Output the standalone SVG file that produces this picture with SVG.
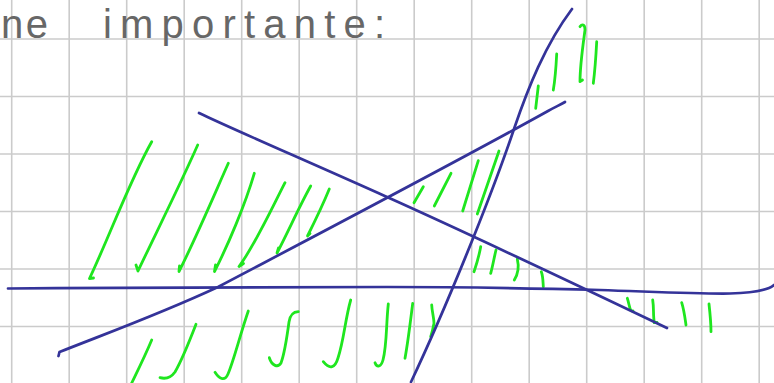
<svg xmlns="http://www.w3.org/2000/svg" width="774" height="383" viewBox="0 0 774 383">
<style>
.grid{stroke:#cbcbcb;stroke-width:1.6;fill:none}
.blue{stroke:#343399;stroke-width:2.7;fill:none;stroke-linecap:round;stroke-linejoin:round}
.green{stroke:#1fe61f;stroke-width:2.8;fill:none;stroke-linecap:round;stroke-linejoin:round}
.hand{font-family:"Liberation Sans","DejaVu Sans",sans-serif;font-size:40px;fill:#676767}
</style>
<rect width="774" height="383" fill="#ffffff"/>
<g id="grid" class="grid">
<path d="M11.7,0V383M69.2,0V383M126.7,0V383M184.2,0V383M241.7,0V383M299.2,0V383M356.7,0V383M414.2,0V383M471.7,0V383M529.2,0V383M586.7,0V383M644.2,0V383M701.7,0V383M759.2,0V383"/>
<path d="M0,39H774M0,96.5H774M0,154H774M0,211.5H774M0,269H774M0,326.5H774"/>
</g>
<g id="title" class="hand">
<text x="1" y="38" textLength="47" lengthAdjust="spacing">ne</text>
<text x="103" y="38" textLength="282" lengthAdjust="spacing">importante:</text>
</g>
<g id="hatches" class="green">
<path d="M151.7,141.7C130,180 110,235 89.5,278.5L93.5,278"/>
<path d="M197.7,145C180,185 155,235 138,271L136,265"/>
<path d="M228.3,163.3C212,200 195,240 179,271.5L179.5,266"/>
<path d="M254.3,173.3C245,205 228,245 214.5,271.5L215.5,265"/>
<path d="M285,182.7C270,212 255,245 239,266.5L243.5,263.5"/>
<path d="M310.7,186C300,205 288,232 277,253L278.5,248"/>
<path d="M329.3,189C322,207 314,223 307.5,236L310,233.5"/>
<path d="M151.7,340C145,356 138,370 131.7,383"/>
<path d="M196,324.3C188,345 182,360 175,372C170,379 165,379 160,377.7"/>
<path d="M248.3,311C240,335 234,360 228,374C225,381 220,380 215,372.3"/>
<path d="M298.3,311.7C292,312 290,316 289,322C287,337 285,352 281,363C278,368 272,366 269.3,357.7"/>
<path d="M350.7,300C345,320 344,340 338,358C335,368 330,370 323.3,361.7"/>
<path d="M388.3,304C386,325 387,345 383,360C381,367 377,368 375,362.7"/>
<path d="M412.7,303.3C410,325 408,342 405,358.3"/>
<path d="M431.7,305C432,312 434,318 434,323.3C433,329 432,333 430.7,336.7"/>
<path d="M423.3,186.7L414,202.7"/>
<path d="M451,173.3L434.3,206"/>
<path d="M478.3,160.7L462.7,211"/>
<path d="M499,151L477.3,214"/>
<path d="M480.7,246.7C479,256 477,263 474,271.7"/>
<path d="M496,250C494,258 493,265 490.7,273.3"/>
<path d="M517.3,259C519,266 518,274 514.3,280"/>
<path d="M541.3,271.7C543,276 543,281 543.3,286.7"/>
<path d="M538.3,86L535.7,108.3"/>
<path d="M556.7,54C556,68 555,80 553.3,90"/>
<path d="M580,26.7C582,24 585,24 585,30C583,45 580,65 580,81.7L582.5,80"/>
<path d="M596.7,41.7C596,55 595,70 593.3,83.3"/>
<path d="M627.3,298.3C629,303 629,307 631,310.7L633,311"/>
<path d="M652.7,300C654,308 653,315 654.3,322.7L657,322.5"/>
<path d="M681.7,302.7C684,310 685,318 686,325"/>
<path d="M709,304C710,313 711,322 711,331.7"/>
</g>
<g id="lines" class="blue">
<path d="M8,288.5C150,287 300,287 387,287C480,287 560,289 600,290C660,292 700,294 730,293.5C755,293 768,290 774,285"/>
<path d="M58.5,356L59.5,352C110,332 160,314 218,287C330,228 460,160 548,111C555,107 560,105 565,102"/>
<path d="M199,113C230,128 300,158 387,197S600,296 667,328"/>
<path d="M411,382C445,310 490,200 514,129C528,88 545,45 572,9"/>
</g>
</svg>
